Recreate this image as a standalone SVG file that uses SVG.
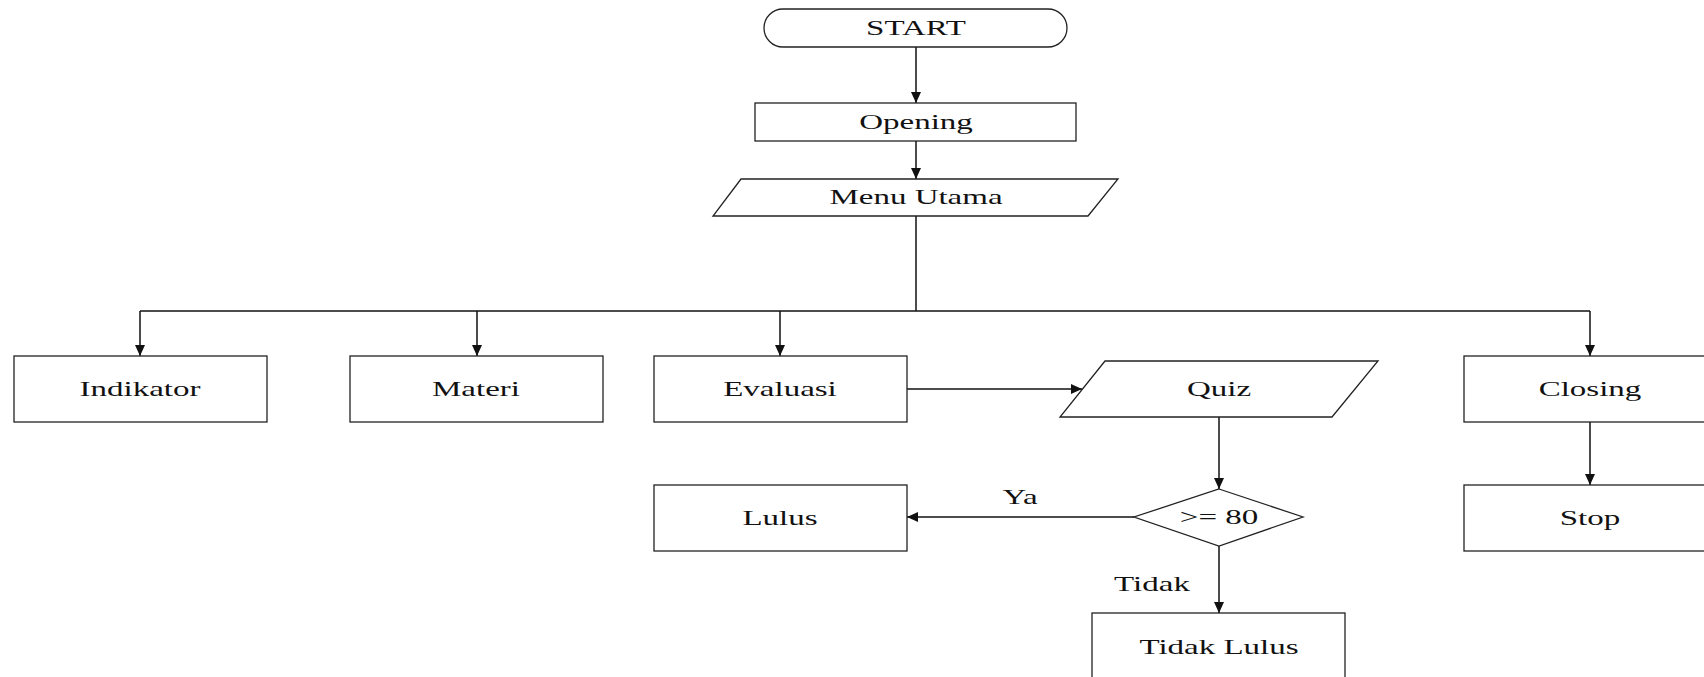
<svg xmlns="http://www.w3.org/2000/svg" width="1704" height="677" viewBox="0 0 1704 677">
<style>
.s{fill:#fff;stroke:#222;stroke-width:1.3}
.c{fill:none;stroke:#111;stroke-width:1.5}
text{font-family:"Liberation Serif","Times New Roman",serif;font-size:22px;fill:#111;text-anchor:middle}
</style>
<defs>
<marker id="ah" markerUnits="userSpaceOnUse" markerWidth="12" markerHeight="12" viewBox="0 0 12 12" refX="11" refY="6" orient="auto">
<path d="M0,1 L11,6 L0,11 Z" fill="#111"/>
</marker>
</defs>
<rect width="1704" height="677" fill="#fff"/>
<g id="connectors">
<line class="c" x1="916" y1="47" x2="916" y2="103" marker-end="url(#ah)"/>
<line class="c" x1="916" y1="141" x2="916" y2="179" marker-end="url(#ah)"/>
<line class="c" x1="916" y1="216" x2="916" y2="311"/>
<line class="c" x1="140" y1="311" x2="1590" y2="311"/>
<line class="c" x1="140" y1="311" x2="140" y2="356" marker-end="url(#ah)"/>
<line class="c" x1="477" y1="311" x2="477" y2="356" marker-end="url(#ah)"/>
<line class="c" x1="780" y1="311" x2="780" y2="356" marker-end="url(#ah)"/>
<line class="c" x1="1590" y1="311" x2="1590" y2="356" marker-end="url(#ah)"/>
<line class="c" x1="907" y1="389" x2="1082" y2="389" marker-end="url(#ah)"/>
<line class="c" x1="1219" y1="417" x2="1219" y2="489" marker-end="url(#ah)"/>
<line class="c" x1="1134" y1="517" x2="907" y2="517" marker-end="url(#ah)"/>
<line class="c" x1="1219" y1="546" x2="1219" y2="613" marker-end="url(#ah)"/>
<line class="c" x1="1590" y1="422" x2="1590" y2="485" marker-end="url(#ah)"/>
<text transform="translate(1020,504) scale(1.5,1)">Ya</text>
<text transform="translate(1152,591) scale(1.5,1)">Tidak</text>
</g>
<g id="start">
<rect class="s" x="764" y="9" width="303" height="38" rx="19"/>
<text transform="translate(916,35) scale(1.5,1)">START</text>
</g>
<g id="opening">
<rect class="s" x="755" y="103" width="321" height="38"/>
<text transform="translate(916,129) scale(1.5,1)">Opening</text>
</g>
<g id="menu">
<polygon class="s" points="741,179 1118,179 1088,216 713,216"/>
<text transform="translate(916,204) scale(1.5,1)">Menu Utama</text>
</g>
<g id="indikator">
<rect class="s" x="14" y="356" width="253" height="66"/>
<text transform="translate(140,396) scale(1.5,1)">Indikator</text>
</g>
<g id="materi">
<rect class="s" x="350" y="356" width="253" height="66"/>
<text transform="translate(476,396) scale(1.5,1)">Materi</text>
</g>
<g id="evaluasi">
<rect class="s" x="654" y="356" width="253" height="66"/>
<text transform="translate(780,396) scale(1.5,1)">Evaluasi</text>
</g>
<g id="quiz">
<polygon class="s" points="1105,361 1378,361 1332,417 1060,417"/>
<text transform="translate(1219,396) scale(1.5,1)">Quiz</text>
</g>
<g id="closing">
<rect class="s" x="1464" y="356" width="253" height="66"/>
<text transform="translate(1590,396) scale(1.5,1)">Closing</text>
</g>
<g id="stop">
<rect class="s" x="1464" y="485" width="253" height="66"/>
<text transform="translate(1590,525) scale(1.5,1)">Stop</text>
</g>
<g id="decision">
<polygon class="s" points="1219,489 1303,517 1219,546 1134,517"/>
<text transform="translate(1219,524) scale(1.5,1)">&gt;= 80</text>
</g>
<g id="lulus">
<rect class="s" x="654" y="485" width="253" height="66"/>
<text transform="translate(780,525) scale(1.5,1)">Lulus</text>
</g>
<g id="tidaklulus">
<rect class="s" x="1092" y="613" width="253" height="80"/>
<text transform="translate(1219,654) scale(1.5,1)">Tidak Lulus</text>
</g>
</svg>
